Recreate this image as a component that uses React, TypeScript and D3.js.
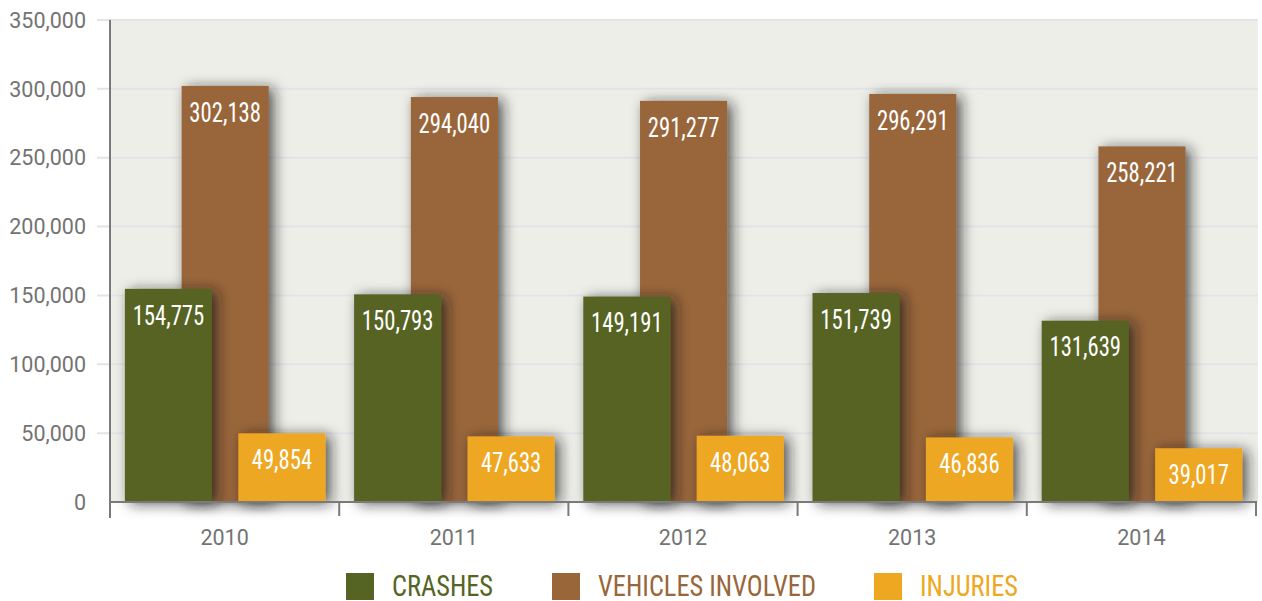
import React, { useRef, useEffect } from 'react';
import * as d3 from 'd3';

const years = ['2010', '2011', '2012', '2013', '2014'];
const crashes = [154775, 150793, 149191, 151739, 131639];
const vehicles = [302138, 294040, 291277, 296291, 258221];
const injuries = [49854, 47633, 48063, 46836, 39017];
const yTicks = [0, 50000, 100000, 150000, 200000, 250000, 300000, 350000];

const seriesNames = ['CRASHES', 'VEHICLES INVOLVED', 'INJURIES'];
const seriesColors = ['#566423', '#99663a', '#eea721'];

const narrow = '"Liberation Sans Narrow", "Roboto Condensed", "Arial Narrow", sans-serif';

const App = () => {
  const svgRef = useRef<SVGSVGElement>(null);

  useEffect(() => {
    document.body.style.margin = '0';
    const width = 1262;
    const height = 601;
    const left = 110, right = 1256, top = 20, bottom = 502;

    const svg = d3.select(svgRef.current);
    svg.selectAll('*').remove();
    svg.attr('width', width).attr('height', height);

    // soft drop shadow behind every bar
    const defs = svg.append('defs');
    const f = defs.append('filter').attr('id', 'shadow')
      .attr('x', '-40%').attr('y', '-40%').attr('width', '180%').attr('height', '180%');
    f.append('feDropShadow')
      .attr('dx', 5).attr('dy', 2).attr('stdDeviation', 7)
      .attr('flood-color', '#1a1a1a').attr('flood-opacity', 0.72);

    const x = d3.scaleBand().domain(years).range([left, right]).paddingInner(0).paddingOuter(0);
    const y = d3.scaleLinear().domain([0, 350000]).range([bottom, top]);
    const bw = x.bandwidth() * 0.38;
    const sub = d3.scalePoint().domain(['0', '1', '2']).range([x.bandwidth() * 0.065, x.bandwidth() * 0.94 - bw]);

    // plot background
    svg.append('rect').attr('x', left).attr('y', top).attr('width', right - left + 2).attr('height', bottom - top)
      .attr('fill', '#eeeee9');

    // gridlines + y labels
    const g = svg.append('g');
    g.selectAll('line.grid').data(yTicks.filter(d => d > 0)).join('line')
      .attr('x1', 97).attr('x2', right + 2)
      .attr('y1', d => y(d)).attr('y2', d => y(d))
      .attr('stroke', '#e4e4e8').attr('stroke-width', 2);
    g.selectAll('text.yl').data(yTicks).join('text')
      .attr('x', 86).attr('y', d => y(d)).attr('dy', '0.36em')
      .attr('text-anchor', 'end')
      .attr('font-family', 'Roboto, sans-serif').attr('font-size', 21.5)
      .attr('fill', '#737373')
      .text(d => d3.format(',')(d));

    const series = [crashes, vehicles, injuries];
    const order = [1, 0, 2]; // vehicles behind
    const bars = svg.append('g');
    order.forEach(si => {
      bars.append('g').attr('filter', 'url(#shadow)')
        .selectAll('rect').data(series[si]).join('rect')
        .attr('x', (d, i) => (x(years[i]) as number) + (sub(String(si)) as number))
        .attr('y', d => y(d))
        .attr('width', bw)
        .attr('height', d => bottom - y(d))
        .attr('fill', seriesColors[si]);
    });
    order.forEach(si => {
      bars.append('g').selectAll('text').data(series[si]).join('text')
        .attr('transform', (d, i) =>
          `translate(${(x(years[i]) as number) + (sub(String(si)) as number) + bw / 2},${y(d) + 26}) scale(0.84,1)`)
        .attr('dy', '0.36em')
        .attr('text-anchor', 'middle')
        .attr('font-family', narrow).attr('font-size', 27)
        .attr('fill', '#fff')
        .text(d => d3.format(',')(d));
    });

    // axes lines
    svg.append('line').attr('x1', left).attr('x2', left).attr('y1', top).attr('y2', bottom + 16)
      .attr('stroke', '#7a7a7a').attr('stroke-width', 2);
    svg.append('line').attr('x1', left).attr('x2', right + 1).attr('y1', bottom).attr('y2', bottom)
      .attr('stroke', '#7a7a7a').attr('stroke-width', 2);
    const tickXs = years.map(yr => (x(yr) as number) + x.bandwidth()).concat([left]);
    svg.selectAll('line.xt').data(tickXs).join('line')
      .attr('x1', d => d).attr('x2', d => d).attr('y1', bottom).attr('y2', bottom + 14)
      .attr('stroke', '#7a7a7a').attr('stroke-width', 2);
    svg.append('g').selectAll('text').data(years).join('text')
      .attr('x', d => (x(d) as number) + x.bandwidth() / 2)
      .attr('y', 545)
      .attr('text-anchor', 'middle')
      .attr('font-family', 'Roboto, sans-serif').attr('font-size', 21.5)
      .attr('fill', '#737373')
      .text(d => d);

    // legend
    const legendX = [346, 552, 874];
    const leg = svg.append('g');
    seriesNames.forEach((name, i) => {
      leg.append('rect').attr('x', legendX[i]).attr('y', 573).attr('width', 28).attr('height', 27)
        .attr('fill', seriesColors[i]);
      leg.append('text')
        .attr('transform', `translate(${legendX[i] + 46},596) scale(0.88,1)`)
        .attr('font-family', narrow).attr('font-size', 30)
        .attr('fill', seriesColors[i])
        .text(name);
    });
  }, []);

  return <svg ref={svgRef} style={{ display: 'block' }} />;
};

export default App;
